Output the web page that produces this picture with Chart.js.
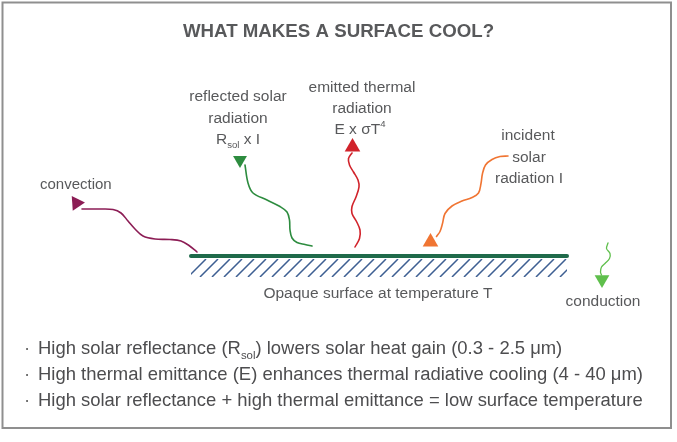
<!DOCTYPE html>
<html>
<head>
<meta charset="utf-8">
<title>What makes a surface cool?</title>
<script src="https://cdn.jsdelivr.net/npm/chart.js@4.4.1/dist/chart.umd.min.js"></script>
<style>
html,body{margin:0;padding:0;background:#fff;overflow:hidden}
#box{position:relative;width:677px;height:442px}
</style>
</head>
<body>
<div id="box"><canvas id="chart" width="677" height="442"></canvas></div>
<script>
// ---- Data (x, y in diagram units; y grows downward) ----
const convectionPath = [[82,209],[100,209],[113,209.5],[121,213],[128,221],[135,229],[143,236],[155,239],[170,239.5],[181,241],[189,245.5],[197,252]];
const reflectedPath  = [[245,165],[248,183],[253,193],[267,200],[280,206.5],[287,212],[289.5,220],[290,230],[292,238],[297,242.5],[305,244.5],[312,246]];
const emittedPath    = [[352,153],[348.5,158.5],[349.5,165],[353.5,172],[358,180],[359,187],[356,197],[352,206.5],[352,213.5],[356.5,221.5],[360,230],[359.5,238.5],[355,247]];
const incidentPath   = [[508,156],[500,156.5],[492,159.5],[485.5,165],[482.5,173.5],[481,183.5],[478.5,193],[472,197.5],[462,201],[452,206],[445,213.5],[442.5,223.5],[440,231.5],[436.5,236.5]];
const conductionPath = [[608,243],[606.5,248.5],[610,253.5],[609.5,258.5],[605,263.5],[601.5,267],[600.5,272],[601.5,275]];
const surfacePath    = [[191,256],[567,256]];

const convectionHead = [[76.5,203]];
const reflectedHead  = [[240,160]];
const emittedHead    = [[352.5,147]];
const incidentHead   = [[430.5,242]];
const conductionHead = [[602,279.5]];

const titleText   = 'WHAT MAKES A SURFACE COOL?';
const bulletLines = [
  [['High solar reflectance (R'], ['sol','sub'], [') lowers solar heat gain (0.3 - 2.5 μm)']],
  [['High thermal emittance (E) enhances thermal radiative cooling (4 - 40 μm)']],
  [['High solar reflectance + high thermal emittance = low surface temperature']]
];

// ---- Layout / styles (not data) ----
const FONT = '"Liberation Sans", Arial, sans-serif';
const TEXT_COLOR = '#58595b';
const textItems = [
  {parts:[[titleText]], x:338.5, y:36.5, size:18.7, weight:'bold', align:'center'},
  {parts:[['convection']], x:40, y:189, size:15, align:'left'},
  {parts:[['reflected solar']], x:238, y:101, size:15.5, align:'center'},
  {parts:[['radiation']], x:238, y:122.5, size:15.5, align:'center'},
  {parts:[['R'],['sol','sub'],[' x I']], x:238, y:143.5, size:15.5, align:'center'},
  {parts:[['emitted thermal']], x:362, y:91.5, size:15.5, align:'center'},
  {parts:[['radiation']], x:362, y:113, size:15.5, align:'center'},
  {parts:[['E x σT'],['4','sup']], x:360, y:134, size:15.5, align:'center'},
  {parts:[['incident']], x:528, y:140, size:15.5, align:'center'},
  {parts:[['solar']], x:529, y:161.5, size:15.5, align:'center'},
  {parts:[['radiation I']], x:529, y:183, size:15.5, align:'center'},
  {parts:[['Opaque surface at temperature T']], x:378, y:298, size:15.5, align:'center'},
  {parts:[['conduction']], x:603, y:306, size:15.5, align:'center'},
  {parts:bulletLines[0], x:38, y:353.5, size:18.45, align:'left', color:'#4d4d4f'},
  {parts:bulletLines[1], x:38, y:380, size:18.45, align:'left', color:'#4d4d4f'},
  {parts:bulletLines[2], x:38, y:406, size:18.45, align:'left', color:'#4d4d4f'},
  {parts:[['·']], x:24, y:353.5, size:18.45, align:'left', color:'#666666'},
  {parts:[['·']], x:24, y:380, size:18.45, align:'left', color:'#666666'},
  {parts:[['·']], x:24, y:406, size:18.45, align:'left', color:'#666666'}
];

const toXY = a => a.map(([x, y]) => ({x, y}));
function pathDS(label, pts, color, width) {
  return {label, data: toXY(pts), showLine: true, borderColor: color, borderWidth: width,
    pointRadius: 0, pointHoverRadius: 0, tension: 0.35, fill: false,
    borderCapStyle: 'round', borderJoinStyle: 'round'};
}
function headDS(label, pts, color, r, rot) {
  return {label, data: toXY(pts), showLine: false, pointStyle: 'triangle',
    pointRadius: r, pointHoverRadius: r, pointRotation: rot, rotation: rot,
    pointBackgroundColor: color, backgroundColor: color, pointBorderColor: color,
    borderColor: color, pointBorderWidth: 0, borderWidth: 0};
}

const surfaceDecor = {
  id: 'surfaceDecor',
  beforeDatasetsDraw(chart) {
    const ctx = chart.ctx, xs = chart.scales.x, ys = chart.scales.y;
    // frame
    ctx.save();
    ctx.strokeStyle = '#8f8f8f';
    ctx.lineWidth = 2;
    ctx.strokeRect(xs.getPixelForValue(2.5), ys.getPixelForValue(2.5),
      xs.getPixelForValue(671) - xs.getPixelForValue(2.5), ys.getPixelForValue(428) - ys.getPixelForValue(2.5));
    ctx.restore();
    // hatch under the surface line
    const x0 = xs.getPixelForValue(surfacePath[0][0]);
    const x1 = xs.getPixelForValue(surfacePath[1][0]);
    const top = ys.getPixelForValue(259), bot = ys.getPixelForValue(277);
    ctx.save();
    ctx.beginPath();
    ctx.rect(x0, top, x1 - x0, bot - top);
    ctx.clip();
    ctx.strokeStyle = '#3e5f92';
    ctx.lineWidth = 1.5;
    const h = bot - top;
    ctx.beginPath();
    for (let x = x0 - 3; x < x1 + h; x += 12) {
      ctx.moveTo(x, bot);
      ctx.lineTo(x + h, top);
    }
    ctx.stroke();
    ctx.restore();
  }
};

const textLayer = {
  id: 'textLayer',
  afterDatasetsDraw(chart) {
    const ctx = chart.ctx, xs = chart.scales.x, ys = chart.scales.y;
    ctx.save();
    ctx.textBaseline = 'alphabetic';
    ctx.textAlign = 'left';
    for (const it of textItems) {
      const base = it.size, w = it.weight || 'normal';
      const segs = it.parts.map(([t, kind]) => {
        const sz = kind ? base * 0.62 : base;
        const font = `${w} ${sz}px ${FONT}`;
        ctx.font = font;
        return {t, kind, font, width: ctx.measureText(t).width};
      });
      const total = segs.reduce((s, g) => s + g.width, 0);
      let x = xs.getPixelForValue(it.x);
      if (it.align === 'center') x -= total / 2;
      const y = ys.getPixelForValue(it.y);
      ctx.fillStyle = it.color || TEXT_COLOR;
      for (const g of segs) {
        ctx.font = g.font;
        const dy = g.kind === 'sub' ? base * 0.28 : g.kind === 'sup' ? -base * 0.42 : 0;
        ctx.fillText(g.t, x, y + dy);
        x += g.width;
      }
    }
    ctx.restore();
  }
};

new Chart(document.getElementById('chart'), {
  type: 'scatter',
  data: {
    datasets: [
      pathDS('surface', surfacePath, '#1f6a4a', 4),
      pathDS('convection', convectionPath, '#8c1d55', 1.6),
      pathDS('reflected solar radiation', reflectedPath, '#2d8c3f', 1.6),
      pathDS('emitted thermal radiation', emittedPath, '#d1232b', 1.6),
      pathDS('incident solar radiation', incidentPath, '#f07533', 1.6),
      pathDS('conduction', conductionPath, '#5fbf4c', 1.3),
      headDS('convection head', convectionHead, '#8c1d55', 8.5, -34),
      headDS('reflected head', reflectedHead, '#2d8c3f', 8, 180),
      headDS('emitted head', emittedHead, '#d1232b', 9, 0),
      headDS('incident head', incidentHead, '#f07533', 9, 0),
      headDS('conduction head', conductionHead, '#5fbf4c', 8.5, 180)
    ]
  },
  options: {
    responsive: false,
    animation: false,
    devicePixelRatio: 1,
    layout: {padding: 0, autoPadding: false},
    events: [],
    plugins: {legend: {display: false}, tooltip: {enabled: false}, title: {display: false}},
    scales: {
      x: {type: 'linear', min: 0, max: 677, display: false},
      y: {type: 'linear', min: 0, max: 442, reverse: true, display: false}
    }
  },
  plugins: [surfaceDecor, textLayer]
});
</script>
</body>
</html>
